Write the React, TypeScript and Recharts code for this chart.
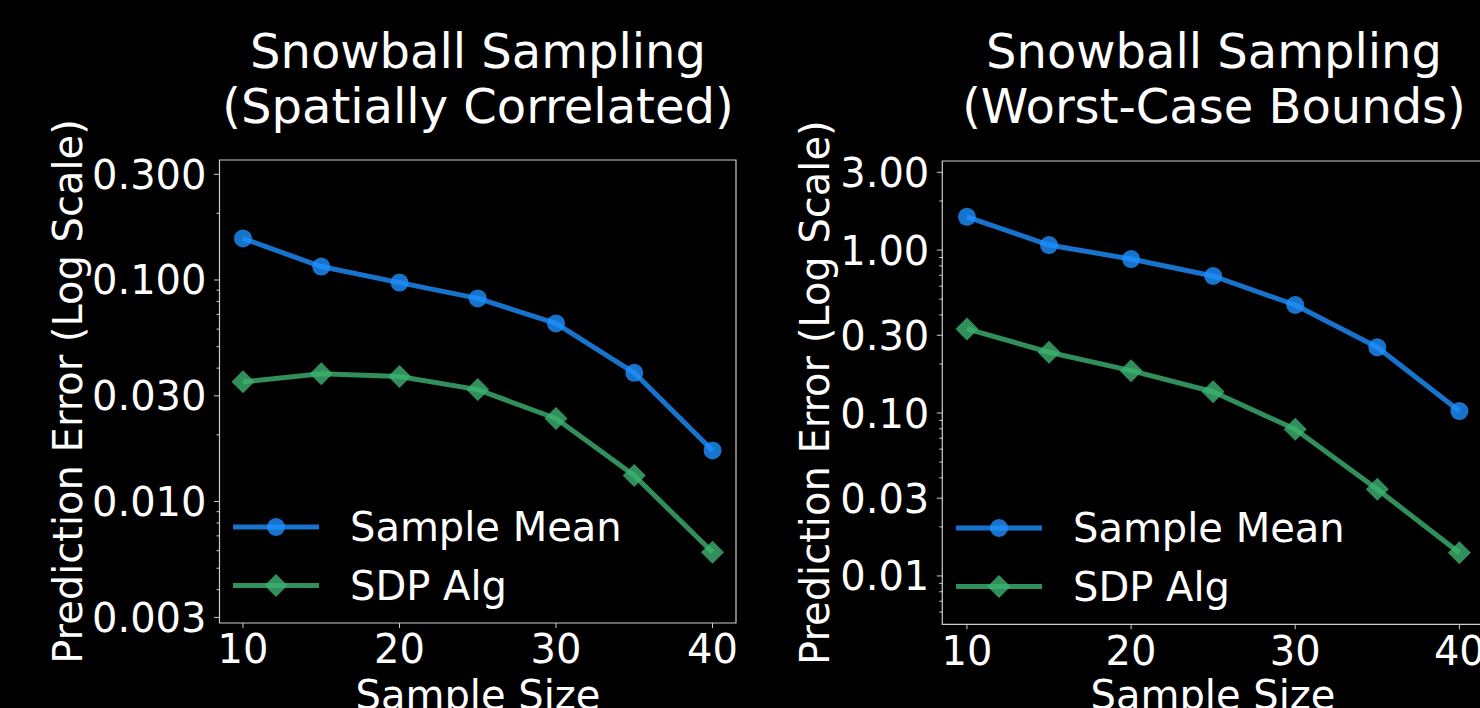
import React from 'react';
import { LineChart, Line, XAxis, YAxis, ReferenceArea, Legend } from 'recharts';

const sampleSizes = [10, 15, 20, 25, 30, 35, 40];

// left panel - spatially correlated
const corrMean = [0.154, 0.115, 0.0973, 0.0826, 0.0637, 0.0381, 0.017];
const corrSdp = [0.0347, 0.0377, 0.0367, 0.032, 0.0237, 0.0131, 0.0059];

// right panel - worst-case bounds
const worstMean = [1.6, 1.073, 0.881, 0.693, 0.46, 0.253, 0.1028];
const worstSdp = [0.328, 0.236, 0.182, 0.135, 0.0794, 0.034, 0.0139];

const xTicks = [10, 20, 30, 40];

const corrTicks = [0.003, 0.01, 0.03, 0.1, 0.3];
const corrTickLabels = ['0.003', '0.010', '0.030', '0.100', '0.300'];
const corrMinor = [0.004, 0.005, 0.006, 0.007, 0.008, 0.009, 0.02, 0.04, 0.05, 0.06, 0.07, 0.08, 0.09, 0.2];

const worstTicks = [0.01, 0.03, 0.1, 0.3, 1, 3];
const worstTickLabels = ['0.01', '0.03', '0.10', '0.30', '1.00', '3.00'];
const worstMinor = [0.006, 0.007, 0.008, 0.009, 0.02, 0.04, 0.05, 0.06, 0.07, 0.08, 0.09, 0.2, 0.4, 0.5, 0.6, 0.7, 0.8, 0.9, 2];

const seriesOrder = ['mean', 'sdp'];

const font = 'DejaVu Sans';
const spine = '#cccccc';
const blue = '#1E90FF';
const green = '#3CB371';
const xDomain = [8.5, 41.5];

const corrData = sampleSizes.map((n, i) => ({ n, mean: corrMean[i], sdp: corrSdp[i] }));
const worstData = sampleSizes.map((n, i) => ({ n, mean: worstMean[i], sdp: worstSdp[i] }));

const LogTick = (props: any) => {
  const { x, y, payload, majors, labels } = props;
  const i = majors.indexOf(payload.value);
  const major = i >= 0;
  const len = major ? 5.5 : 3;
  return (
    <g>
      <line x1={x - len} x2={x} y1={y} y2={y} stroke={spine} strokeWidth={1} />
      {major && (
        <text x={x - 13} y={y} dy={14.5} textAnchor="end" fill="#fff" fontSize={40} fontFamily={font}>
          {labels[i]}
        </text>
      )}
    </g>
  );
};

const diamondPath = (cx: number, cy: number, s: number) =>
  `M${cx},${cy - s}L${cx + s},${cy}L${cx},${cy + s}L${cx - s},${cy}Z`;

const Diamond = (props: any) => {
  const { cx, cy, index } = props;
  if (cx == null || cy == null) return <g key={`d-${index}`} />;
  return <path key={`d-${index}`} d={diamondPath(cx, cy, 11.5)} fill={green} fillOpacity={0.8} />;
};

const LegendBox = (props: any) => {
  const items = [...(props.payload || [])].sort(
    (a: any, b: any) => seriesOrder.indexOf(a.dataKey) - seriesOrder.indexOf(b.dataKey)
  );
  return (
    <svg width={440} height={120} style={{ display: 'block', overflow: 'visible' }}>
      {items.map((entry: any, i: number) => {
        const cy = 30 + i * 58.6;
        const c = entry.color;
        return (
          <g key={entry.value}>
            <line x1={0} x2={86} y1={cy} y2={cy} stroke={c} strokeOpacity={0.8} strokeWidth={5} />
            {entry.dataKey === 'sdp' ? (
              <path d={diamondPath(43, cy, 11.5)} fill={c} fillOpacity={0.8} />
            ) : (
              <circle cx={43} cy={cy} r={9} fill={c} fillOpacity={0.8} />
            )}
            <text x={117} y={cy} dy={14.3} fill="#fff" fontSize={40} fontFamily={font}>
              {entry.value}
            </text>
          </g>
        );
      })}
    </svg>
  );
};

type PanelProps = {
  data: any[];
  yDomain: number[];
  majors: number[];
  labels: string[];
  minors: number[];
  margin: { top: number; right: number; bottom: number; left: number };
  yWidth: number;
  legendPos: { left: number; top: number };
};

const Panel = ({ data, yDomain, majors, labels, minors, margin, yWidth, legendPos }: PanelProps) => {
  const allTicks = [...majors, ...minors].sort((a, b) => a - b);
  return (
    <LineChart width={760} height={708} data={data} margin={margin}>
      <XAxis
        dataKey="n"
        type="number"
        domain={xDomain}
        ticks={xTicks}
        interval={0}
        allowDataOverflow
        height={60}
        axisLine={false}
        tickLine={{ stroke: spine, strokeWidth: 1 }}
        tickSize={5}
        tickMargin={7}
        tick={{ fill: '#fff', fontSize: 40, fontFamily: font }}
      />
      <YAxis
        type="number"
        scale="log"
        domain={yDomain}
        ticks={allTicks}
        interval={0}
        allowDataOverflow
        width={yWidth}
        axisLine={false}
        tickLine={false}
        tickSize={0}
        tickMargin={0}
        tick={(p: any) => <LogTick {...p} majors={majors} labels={labels} />}
      />
      <ReferenceArea
        x1={xDomain[0]}
        x2={xDomain[1]}
        y1={yDomain[0]}
        y2={yDomain[1]}
        fill="none"
        stroke={spine}
        strokeWidth={1.2}
        ifOverflow="visible"
      />
      <Line
        dataKey="mean"
        name="Sample Mean"
        stroke={blue}
        strokeOpacity={0.8}
        strokeWidth={5}
        strokeLinejoin="round"
        dot={{ r: 9, fill: blue, fillOpacity: 0.8, stroke: 'none', strokeWidth: 0 }}
        activeDot={false}
        isAnimationActive={false}
      />
      <Line
        dataKey="sdp"
        name="SDP Alg"
        stroke={green}
        strokeOpacity={0.8}
        strokeWidth={5}
        strokeLinejoin="round"
        dot={(p: any) => <Diamond {...p} />}
        activeDot={false}
        isAnimationActive={false}
      />
      <Legend
        layout="horizontal"
        verticalAlign="middle"
        align="center"
        content={(p: any) => <LegendBox {...p} />}
        wrapperStyle={{ left: legendPos.left, top: legendPos.top, width: 440, height: 120 }}
      />
    </LineChart>
  );
};

const App = () => {
  return (
    <div
      style={{
        position: 'absolute',
        left: 0,
        top: 0,
        width: 1480,
        height: 708,
        background: '#000',
        overflow: 'hidden',
        fontFamily: font,
      }}
    >
      <div style={{ position: 'absolute', left: 0, top: 0 }}>
        <Panel
          data={corrData}
          yDomain={[0.00283, 0.348]}
          majors={corrTicks}
          labels={corrTickLabels}
          minors={corrMinor}
          margin={{ top: 160, right: 24, bottom: 25, left: 79.5 }}
          yWidth={140}
          legendPos={{ left: 232.9, top: 496.7 }}
        />
      </div>
      <div style={{ position: 'absolute', left: 760, top: 0 }}>
        <Panel
          data={worstData}
          yDomain={[0.00505, 3.52]}
          majors={worstTicks}
          labels={worstTickLabels}
          minors={worstMinor}
          margin={{ top: 161, right: 36, bottom: 23.7, left: 62.3 }}
          yWidth={120}
          legendPos={{ left: 196.3, top: 497.7 }}
        />
      </div>
      <svg
        width={1480}
        height={708}
        style={{ position: 'absolute', left: 0, top: 0, pointerEvents: 'none' }}
      >
        <g fill="#fff" fontFamily={font} textAnchor="middle">
          <text x={478} y={68.3} fontSize={48}>Snowball Sampling</text>
          <text x={478} y={122.8} fontSize={48}>(Spatially Correlated)</text>
          <text x={1214} y={68.3} fontSize={48}>Snowball Sampling</text>
          <text x={1214} y={122.8} fontSize={48}>(Worst-Case Bounds)</text>
          <text x={478} y={708.5} fontSize={40}>Sample Size</text>
          <text x={1213} y={708.5} fontSize={40}>Sample Size</text>
          <text x={82} y={391.5} fontSize={40} transform="rotate(-90 82 391.5)">
            Prediction Error (Log Scale)
          </text>
          <text x={829} y={392.6} fontSize={40} transform="rotate(-90 829 392.6)">
            Prediction Error (Log Scale)
          </text>
        </g>
      </svg>
    </div>
  );
};

export default App;
